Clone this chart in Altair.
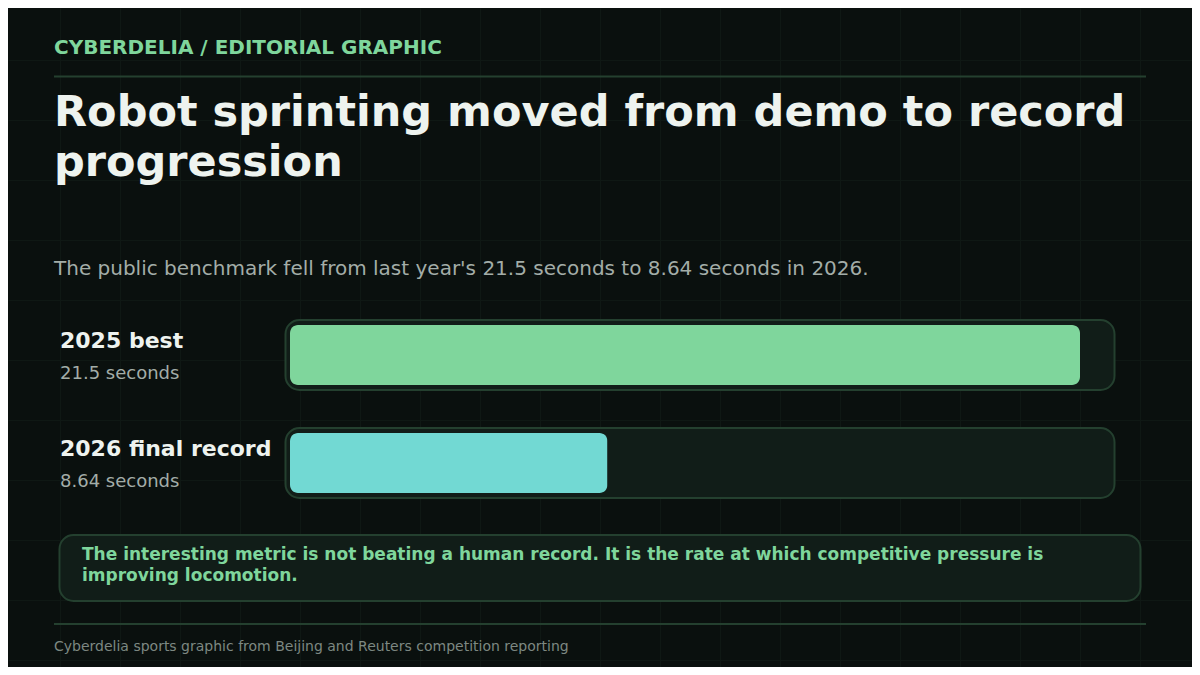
import altair as alt
import pandas as pd

# ---- data ----
kicker = "CYBERDELIA / EDITORIAL GRAPHIC"
title_lines = ["Robot sprinting moved from demo to record", "progression"]
subtitle = "The public benchmark fell from last year's 21.5 seconds to 8.64 seconds in 2026."
labels = ["2025 best", "2026 final record"]
seconds = [21.5, 8.64]
value_labels = ["21.5 seconds", "8.64 seconds"]
bar_colors = ["#7fd69c", "#72d9d3"]
callout_lines = [
    "The interesting metric is not beating a human record. It is the rate at which competitive pressure is",
    "improving locomotion.",
]
footer = "Cyberdelia sports graphic from Beijing and Reuters competition reporting"

BG = "#0a100e"
GRID = "#0f1814"
RULE = "#24402f"
TRACK_FILL = "#111d18"
TRACK_STROKE = "#24402f"
GREEN = "#7fd69c"
WHITE = "#eef3ef"
GREY = "#a3ada8"
FOOT = "#7d8882"
FONT = "DejaVu Sans"

W, H = 1184, 659

rows = pd.DataFrame({"label": labels, "seconds": seconds, "value_label": value_labels, "color": bar_colors})
one = pd.DataFrame({"k": [0]})

# background grid (axis grid of a pixel-space scale)
grid = alt.Chart(one).mark_point(opacity=0).encode(
    x=alt.X(datum=600, type="quantitative",
            scale=alt.Scale(domain=[8, 8 + W], nice=False, zero=False),
            axis=alt.Axis(values=list(range(60, 1200, 60)), grid=True, gridColor=GRID, gridWidth=1,
                          labels=False, ticks=False, domain=False, title=None)),
    y=alt.Y(datum=300, type="quantitative",
            scale=alt.Scale(domain=[8, 8 + H], nice=False, zero=False, reverse=True),
            axis=alt.Axis(values=list(range(60, 675, 60)), grid=True, gridColor=GRID, gridWidth=1,
                          labels=False, ticks=False, domain=False, title=None)),
)

def text_layer(txt, x, y, size, color, weight="normal", line_height=None):
    kw = dict(align="left", baseline="alphabetic", fontSize=size, color=color, fontWeight=weight, font=FONT)
    if line_height is not None:
        kw["lineHeight"] = line_height
    return alt.Chart(one).mark_text(**kw).encode(
        x=alt.value(x), y=alt.value(y), text=alt.value(txt)
    )

def hrule(y, x1, x2):
    return alt.Chart(one).mark_rule(color=RULE, strokeWidth=2).encode(
        x=alt.value(x1), x2=alt.value(x2), y=alt.value(y)
    )

header = text_layer(kicker, 46, 46, 20, GREEN, "bold")
rule_top = hrule(68.5, 46, 1138)
title = text_layer(title_lines, 46, 118, 43, WHITE, "bold", line_height=50)
sub = text_layer(subtitle, 46, 267, 20, GREY)

track_y = alt.Y("label:N", scale=alt.Scale(domain=labels, range=[312, 490],
                                           paddingInner=38 / 108, paddingOuter=0), axis=None)
bar_y = alt.Y("label:N", scale=alt.Scale(domain=labels, range=[317, 485],
                                         paddingInner=48 / 108, paddingOuter=0), axis=None)
text_y = alt.Y("label:N", scale=alt.Scale(type="point", domain=labels, range=[347, 455], padding=0),
               axis=None)

tracks = alt.Chart(rows).mark_bar(fill=TRACK_FILL, stroke=TRACK_STROKE, strokeWidth=2,
                                  cornerRadius=14).encode(
    x=alt.value(277.5), x2=alt.value(1106.5), y=track_y
)

bars = alt.Chart(rows).mark_bar(cornerRadius=8).encode(
    x=alt.X("seconds:Q", scale=alt.Scale(domain=[0, 21.5], range=[282, 1072], nice=False, zero=True),
            axis=None),
    y=bar_y,
    color=alt.Color("color:N", scale=None, legend=None),
)

label_text = alt.Chart(rows).mark_text(align="left", baseline="alphabetic", fontSize=22,
                                       fontWeight="bold", color=WHITE, font=FONT, dy=-7.5).encode(
    x=alt.value(52), y=text_y, text="label:N"
)
value_text = alt.Chart(rows).mark_text(align="left", baseline="alphabetic", fontSize=18,
                                       color=GREY, font=FONT, dy=23.5).encode(
    x=alt.value(52), y=text_y, text="value_label:N"
)

callout_box = alt.Chart(one).mark_rect(fill=TRACK_FILL, stroke=TRACK_STROKE, strokeWidth=2,
                                       cornerRadius=14).encode(
    x=alt.value(51.5), x2=alt.value(1132.5), y=alt.value(527), y2=alt.value(593)
)
callout = text_layer(callout_lines, 74, 552, 17, GREEN, "bold", line_height=21)

rule_bottom = hrule(616, 46, 1138)
foot = text_layer(footer, 46, 643, 14, FOOT)

chart = alt.layer(
    grid, header, rule_top, title, sub, tracks, bars, label_text, value_text,
    callout_box, callout, rule_bottom, foot
).resolve_scale(x="independent", y="independent").properties(
    width=W, height=H, padding=0, autosize=alt.AutoSizeParams(type="none"), background=BG
).configure_view(stroke=None).configure_axis(labelFont=FONT)

chart.save("out.html", embed_options={"renderer": "svg", "actions": False})
